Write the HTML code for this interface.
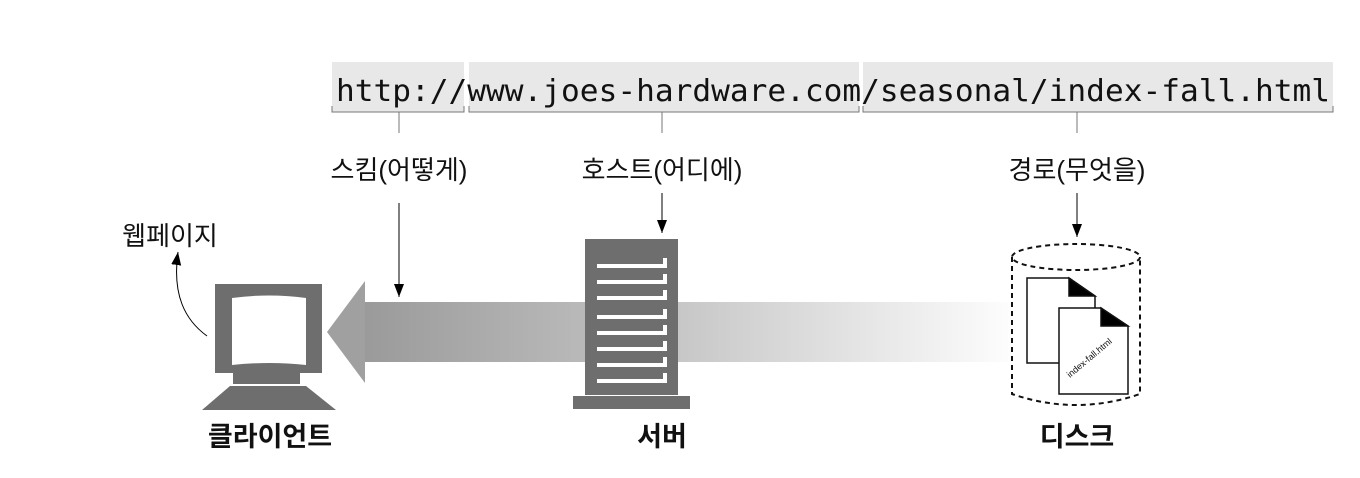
<!DOCTYPE html>
<html><head><meta charset="utf-8"><style>
html,body{margin:0;padding:0;background:#fff;}
svg{display:block}
</style></head><body>
<svg width="1360" height="478" viewBox="0 0 1360 478" xmlns="http://www.w3.org/2000/svg">
<defs>
<linearGradient id="g" x1="0" x2="1" y1="0" y2="0">
<stop offset="0" stop-color="#9a9a9a"/>
<stop offset="0.45" stop-color="#c4c4c4"/>
<stop offset="1" stop-color="#ffffff"/>
</linearGradient>
<marker id="a" markerWidth="14" markerHeight="12" refX="13" refY="5" orient="auto" markerUnits="userSpaceOnUse">
<path d="M0,0 L13,5 L0,10 z" fill="#000"/>
</marker>
</defs>
<rect x="332" y="62" width="132" height="50" fill="#e8e8e8"/>
<rect x="469" y="62" width="390" height="50" fill="#e8e8e8"/>
<rect x="863" y="62" width="470" height="50" fill="#e8e8e8"/>
<g stroke="#777" stroke-width="1" fill="none">
<path d="M332,106 V112 H464 V106"/>
<path d="M469,106 V112 H859 V106"/>
<path d="M863,106 V112 H1333 V106"/>
<line x1="399" y1="112" x2="399" y2="133"/>
<line x1="662" y1="112" x2="662" y2="133"/>
<line x1="1077" y1="112" x2="1077" y2="133"/>
</g>
<text x="336" y="101" font-family="DejaVu Sans Mono, monospace" font-size="30" textLength="994" lengthAdjust="spacingAndGlyphs" fill="#111">http://www.joes-hardware.com/seasonal/index-fall.html</text>
<g font-family="Liberation Sans, Noto Sans CJK KR, sans-serif" font-size="26" fill="#111" text-anchor="middle">
<text x="399" y="179">스킴(어떻게)</text>
<text x="662" y="179">호스트(어디에)</text>
<text x="1077" y="179">경로(무엇을)</text>
<text x="170" y="245">웹페이지</text>
</g>
<g stroke="#000" stroke-width="1" fill="none">
<line x1="399" y1="203" x2="399" y2="297" marker-end="url(#a)"/>
<line x1="662" y1="193" x2="662" y2="233" marker-end="url(#a)"/>
<line x1="1077" y1="193" x2="1077" y2="237" marker-end="url(#a)"/>
<path d="M207,336 C185,320 172,295 178,252" marker-end="url(#a)"/>
</g>
<rect x="363" y="302" width="660" height="60" fill="url(#g)"/>
<polygon points="327,332 365,281 365,383" fill="#a0a0a0"/>
<rect x="215" y="284" width="107" height="89" fill="#6e6e6e"/>
<path d="M232,298 Q269,293 306,298 V365 Q269,361 232,365 Z" fill="#fff"/>
<rect x="233" y="372" width="67" height="12" fill="#6e6e6e"/>
<polygon points="202,410 230,386 306,386 336,410" fill="#6e6e6e"/>
<rect x="585" y="239" width="93" height="156" fill="#6e6e6e"/>
<rect x="573" y="396" width="117" height="13" fill="#6e6e6e"/>
<g fill="#fff">
<rect x="597" y="264" width="70" height="4"/><rect x="663" y="258" width="4" height="8"/>
<rect x="597" y="280" width="70" height="4"/><rect x="663" y="274" width="4" height="8"/>
<rect x="597" y="296" width="70" height="4"/><rect x="663" y="290" width="4" height="8"/>
<rect x="597" y="315" width="70" height="4"/><rect x="663" y="309" width="4" height="8"/>
<rect x="597" y="331" width="70" height="4"/><rect x="663" y="325" width="4" height="8"/>
<rect x="597" y="347" width="70" height="4"/><rect x="663" y="341" width="4" height="8"/>
<rect x="597" y="363" width="70" height="4"/><rect x="663" y="357" width="4" height="8"/>
<rect x="597" y="379" width="70" height="4"/><rect x="663" y="373" width="4" height="8"/>
</g>
<rect x="1012" y="250" width="128" height="152" fill="#fff"/>
<g stroke="#111" stroke-width="2" fill="none" stroke-dasharray="5,4">
<ellipse cx="1076" cy="257" rx="64" ry="13"/>
<path d="M1012,257 V394 Q1076,416 1140,394 V257"/>
</g>
<g stroke="#111" stroke-width="1.5">
<polygon points="1027,278 1069,278 1095,296 1095,363 1027,363" fill="#fff"/>
<polygon points="1069,278 1095,296 1069,296" fill="#000"/>
<polygon points="1059,308 1101,308 1128,326 1128,394 1059,394" fill="#fff"/>
<polygon points="1101,308 1128,326 1101,326" fill="#000"/>
</g>
<text x="1070" y="378" font-family="Liberation Sans, sans-serif" font-size="9" fill="#111" transform="rotate(-40 1070 378)">index-fall.html</text>
<g font-family="Liberation Sans, Noto Sans CJK KR, sans-serif" font-size="27" font-weight="bold" fill="#111" text-anchor="middle">
<text x="270" y="446">클라이언트</text>
<text x="662" y="446">서버</text>
<text x="1077" y="446">디스크</text>
</g>
</svg>
</body></html>
